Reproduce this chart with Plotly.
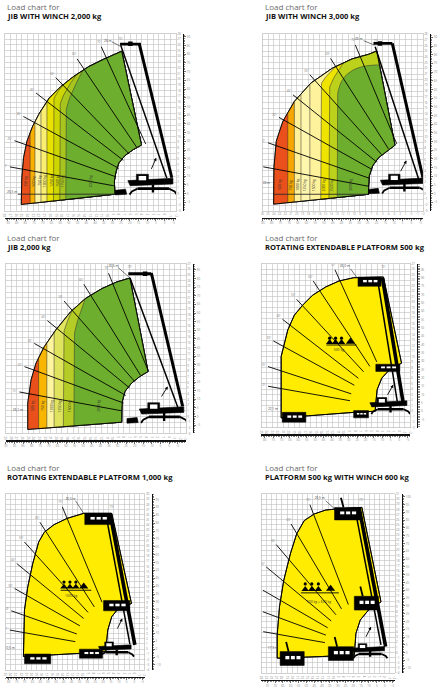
import math
import plotly.graph_objects as go

FIG_W, FIG_H = 446, 691
M_TO_FT = 3.28084

# ===================== DATA (metres) =====================

# ---- Panel 1: JIB WITH WINCH 2,000 kg
p1_title = "JIB WITH WINCH 2,000 kg"
p1_x_range = [28, -2]
p1_y_range = [-3, 28]
p1_env_x = [25.1, 25.0, 24.7, 24.1, 23.1, 21.9, 20.2, 18.2, 15.9, 13.3, 10.7, 8.7, 7.5, 4.05, 5.5, 6.9, 8.0, 8.5, 8.8, 8.7]
p1_env_y = [-1.9, 2.8, 6.3, 9.2, 11.8, 14.1, 16.7, 18.7, 20.5, 22.2, 23.5, 24.4, 24.9, 8.5, 7.7, 6.7, 5.4, 3.9, 2.2, -0.1]
p1_zone_x = [23.55, 22.7, 21.65, 20.6, 19.45, 18.35, 17.3]
p1_zone_turn = [None, None, None, None, 16.1, 15.0, 13.8]
p1_zone_ctrl = [None, None, None, None, 17.4, 16.8, 16.2]
p1_zone_end_x = [None, None, None, None, 16.5, 15.3, 14.15]
p1_zone_end_y = [None, None, None, None, 20.3, 21.0, 21.8]
p1_zone_colors = ["#E9501B", "#F7B000", "#FFF4A3", "#FAEE72", "#E9E100", "#CDD600", "#A8C51F", "#6DAE2E"]
p1_loads = ["250 kg", "500 kg", "750 kg", "1000 kg", "1250 kg", "1500 kg", "1750 kg", "2000 kg"]
p1_load_x = [24.36, 22.98, 22.06, 21.08, 19.92, 18.88, 17.9, 13.0]
p1_load_y = [2.2, 2.2, 2.2, 2.2, 2.2, 2.2, 2.2, 2.2]
p1_center = [-0.85, -0.4]
p1_ray_ang = [10.3, 19.6, 28.5, 37.6, 46.1, 56.0, 65.4]
p1_ray_r0 = [9.9, 10.0, 10.1, 10.2, 10.2, 10.3, 10.0]
p1_ray_r1 = [28.4, 28.8, 29.1, 29.5, 28.7, 28.9, 28.7]
p1_ray_labels = ["10°", "20°", "30°", "40°", "50°", "60°", "70°"]
p1_top_label = ["26 m", 9.94, 26.67]
p1_top_leader_x = [9.25, 7.8]
p1_top_leader_y = [26.55, 25.8]
p1_side_label = ["26,5 m", 26.7, 0.3]
p1_ground = [25.7, 8.7, -0.1]
p1_angle_label = ["73°", 7.69, 26.96]
p1_boom_thick_x = [4.46, -1.26]
p1_boom_thick_y = [26.26, 2.78]
p1_boom_thin_x = [7.69, -0.39]
p1_boom_thin_y = [25.97, 2.67]
p1_jib_x = [7.8, 4.17]
p1_jib_y = [26.14, 26.14]
p1_jib_box = [5.99, 26.23]
p1_machine = [-1.26, 2.78, 1.0]
p1_arrow = [2.44, 4.06, 1.46, 6.26]

# ---- Panel 2: JIB WITH WINCH 3,000 kg
p2_title = "JIB WITH WINCH 3,000 kg"
p2_x_range = [26, -2]
p2_y_range = [-3, 28]
p2_env_x = [24.04, 24.04, 23.99, 23.58, 22.43, 20.42, 17.55, 13.81, 10.36, 7.48, 6.05, 2.88, 4.32, 5.76, 6.79, 7.37, 7.48, 7.48]
p2_env_y = [-1.84, 1.07, 4.56, 9.21, 12.7, 16.19, 19.39, 22.01, 23.64, 24.45, 25.03, 8.51, 7.46, 6.3, 4.85, 3.1, 1.07, -0.1]
p2_zone_x = [21.57, 20.42, 19.27, 17.72, 15.82, 14.38, 12.95]
p2_zone_turn = [None, None, None, None, 18.81, 17.94, 16.19]
p2_zone_ctrl = [None, None, None, None, 19.8, 19.4, 22.59]
p2_zone_end_x = [None, None, None, None, 13.23, 11.8, 5.87]
p2_zone_end_y = [None, None, None, None, 22.3, 23.0, 22.59]
p2_zone_colors = ["#E9501B", "#F5A600", "#FFF09A", "#FFF6AE", "#FFF29C", "#EFE300", "#BCD11B", "#6DAE2E"]
p2_loads = ["500 kg", "750 kg", "1000 kg", "1250 kg", "1500 kg", "2000 kg", "2500 kg", "3000 kg"]
p2_load_x = [23.01, 21.11, 20.02, 18.7, 17.14, 15.36, 13.98, 10.76]
p2_load_y = [1.5, 1.5, 1.5, 1.5, 1.5, 1.5, 1.5, 1.5]
p2_center = [-1.2, -0.3]
p2_ray_ang = [10.5, 19.4, 29.4, 38.9, 48.2, 57.5, 67.4]
p2_ray_r0 = [8.8, 9.0, 9.2, 9.4, 9.6, 9.7, 9.8]
p2_ray_r1 = [27.5, 27.8, 27.9, 28.1, 28.4, 28.5, 28.6]
p2_ray_labels = ["10°", "20°", "30°", "40°", "50°", "60°", "70°"]
p2_top_label = ["26 m", 9.21, 27.07]
p2_top_leader_x = [8.35, 6.45]
p2_top_leader_y = [26.84, 26.08]
p2_side_label = ["24 m", 25.3, 1.9]
p2_ground = [24.04, 7.48, -0.1]
p2_angle_label = ["73°", 6.22, 26.78]
p2_boom_thick_x = [3.34, -2.0]
p2_boom_thick_y = [26.37, 2.81]
p2_boom_thin_x = [6.33, -1.26]
p2_boom_thin_y = [25.79, 2.52]
p2_jib_x = [6.62, 3.34]
p2_jib_y = [26.37, 26.37]
p2_jib_box = [5.5, 26.37]
p2_machine = [-1.9, 2.84, 0.95]
p2_arrow = [2.02, 3.68, 0.87, 5.84]

# ---- Panel 3: JIB 2,000 kg
p3_title = "JIB 2,000 kg"
p3_x_range = [29, -3]
p3_y_range = [-3, 27]
p3_env_x = [25.08, 25.08, 24.49, 23.62, 22.15, 20.11, 17.47, 14.84, 11.91, 9.28, 6.94, 3.72, 5.18, 6.65, 7.82, 8.29, 8.4, 8.4]
p3_env_y = [-2.29, 2.4, 6.5, 9.43, 12.35, 15.28, 18.51, 20.85, 22.61, 23.78, 24.48, 7.96, 7.08, 5.91, 4.45, 2.69, 0.93, -1.0]
p3_zone_x = [23.15, 21.69, 20.4, 18.76, 16.89]
p3_zone_turn = [None, None, None, 14.1, 13.53]
p3_zone_ctrl = [None, None, None, 15.5, 15.7]
p3_zone_end_x = [None, None, None, 17.18, 14.84]
p3_zone_end_y = [None, None, None, 18.8, 20.85]
p3_zone_colors = ["#E9501B", "#F8B600", "#FFF59F", "#DFE35E", "#B5CC26", "#6DAE2E"]
p3_loads = ["500 kg", "750 kg", "1000 kg", "1250 kg", "1500 kg", "2000 kg"]
p3_load_x = [24.2, 22.45, 20.98, 19.52, 17.77, 12.5]
p3_load_y = [1.8, 1.8, 1.8, 1.8, 1.8, 1.8]
p3_center = [0.2, -0.5]
p3_ray_ang = [10.4, 20.1, 29.5, 39.2, 48.6, 58.0, 67.8]
p3_ray_r0 = [8.3, 8.4, 8.6, 8.8, 9.0, 9.2, 9.3]
p3_ray_r1 = [26.8, 27.1, 27.25, 27.6, 27.9, 28.15, 27.9]
p3_ray_labels = ["10°", "20°", "30°", "40°", "50°", "60°", "70°"]
p3_top_label = ["26,6 m", 9.87, 26.53]
p3_top_leader_x = [8.99, 7.12]
p3_top_leader_y = [26.3, 24.66]
p3_side_label = ["26,1 m", 26.83, 1.05]
p3_ground = None
p3_angle_label = ["73°", 6.94, 26.41]
p3_boom_thick_x = [3.14, -2.42]
p3_boom_thick_y = [25.36, 1.81]
p3_boom_thin_x = [6.94, -1.54]
p3_boom_thin_y = [24.54, 1.69]
p3_jib_x = [7.23, 3.14]
p3_jib_y = [25.24, 25.24]
p3_jib_box = [4.24, 25.24]
p3_machine = [-2.43, 1.83, 1.0]
p3_arrow = [1.5, 3.27, 0.22, 5.32]

# ---- Panel 4: ROTATING EXTENDABLE PLATFORM 500 kg
p4_title = "ROTATING EXTENDABLE PLATFORM 500 kg"
p4_x_range = [25, -2]
p4_y_range = [-3, 27]
p4_env_x = [21.41, 21.41, 20.21, 19.01, 17.51, 15.72, 13.32, 10.93, 8.23, 2.84, -0.45, 1.65, 3.14, 3.98, 4.22, 4.34, 7.93]
p4_env_y = [-1.23, 10.0, 14.86, 17.59, 19.41, 21.23, 22.75, 23.84, 24.45, 24.57, 8.79, 7.69, 6.05, 3.93, 1.5, -0.02, -0.2]
p4_center = [0.15, 0.35]
p4_ray_ang = [10.1, 18.3, 28.9, 38.1, 47.5, 56.7, 65.8]
p4_ray_r0 = [8.9, 9.0, 9.1, 9.2, 9.3, 9.4, 9.5]
p4_ray_r1 = [24.0, 24.9, 25.9, 26.7, 27.3, 28.1, 28.0]
p4_ray_labels = ["10°", "20°", "30°", "40°", "50°", "60°", "70°"]
p4_top_label = ["26,0 m", 9.85, 26.51]
p4_top_leader_x = [8.83, 7.63]
p4_top_leader_y = [26.09, 24.45]
p4_side_label = ["22,1 m", 22.9, 0.29]
p4_angle_label = ["73°", 2.84, 26.39]
p4_boom_thick_x = [3.02, -0.75]
p4_boom_thick_y = [24.45, 1.5]
p4_boom_thin_x = [3.86, 0.33]
p4_boom_thin_y = [23.84, 1.8]
p4_machine = [-1.25, 1.97, 0.85]
p4_arrow = [2.25, 2.71, 1.05, 4.84]
p4_plat_cx = [5.36, 2.04, 19.07, 6.9]
p4_plat_y = [22.87, 7.27, -2.02, -1.23]
p4_plat_w = [4.2, 4.37, 4.3, 2.7]
p4_plat_h = [1.7, 1.33, 1.8, 1.33]
p4_people_x = [12.6, 11.53, 10.45]
p4_heap_x = [8.83]
p4_icon_floor = [12.12, 1.52]
p4_floor_x = [13.2, 7.75]
p4_cap = ["500 kg", 10.93, 11.09]

# ---- Panel 5: ROTATING EXTENDABLE PLATFORM 1,000 kg
p5_title = "ROTATING EXTENDABLE PLATFORM 1,000 kg"
p5_x_range = [25, -2]
p5_y_range = [-4, 30]
p5_env_x = [21.55, 21.35, 20.71, 19.75, 18.6, 17.51, 15.6, 13.04, 9.84, 4.4, 0.56, 3.12, 4.4, 5.17, 5.42, 5.55, 10.16]
p5_env_y = [-1.43, 7.55, 12.04, 16.53, 20.7, 22.62, 24.1, 25.32, 26.28, 26.28, 8.83, 7.87, 6.27, 3.7, 1.14, -0.47, -0.79]
p5_center = [2.42, -0.15]
p5_ray_ang = [10.0, 19.4, 29.7, 39.3, 47.8, 57.2, 67.3]
p5_ray_r0 = [9.2, 9.3, 9.4, 9.6, 9.8, 9.9, 10.0]
p5_ray_r1 = [22.1, 22.8, 24.0, 26.4, 28.2, 29.4, 30.0]
p5_ray_labels = ["10°", "20°", "30°", "40°", "50°", "60°", "70°"]
p5_top_label = ["26,5 m", 12.4, 29.04]
p5_top_leader_x = [11.44, 9.84]
p5_top_leader_y = [28.72, 26.28]
p5_side_label = ["20,5 m", 24.23, 0.17]
p5_angle_label = ["73°", 4.4, 27.43]
p5_boom_thick_x = [4.72, -0.08]
p5_boom_thick_y = [26.28, 0.81]
p5_boom_thin_x = [5.49, 0.88]
p5_boom_thin_y = [25.83, 1.0]
p5_machine = [0.8, 0.91, 0.8]
p5_arrow = [3.44, 3.7, 2.35, 5.95]
p5_plat_cx = [7.09, 3.44, 18.79, 8.43]
p5_plat_y = [24.1, 7.42, -2.84, -1.75]
p5_plat_w = [5.1, 5.1, 5.1, 4.5]
p5_plat_h = [2.2, 2.0, 1.9, 1.75]
p5_people_x = [13.68, 12.52, 11.37]
p5_heap_x = [9.84]
p5_icon_floor = [11.4, 1.92]
p5_floor_x = [14.32, 8.37]
p5_cap = ["1000 kg", 12.27, 10.24]

# ---- Panel 6: PLATFORM 500 kg WITH WINCH 600 kg
p6_title = "PLATFORM 500 kg WITH WINCH 600 kg"
p6_x_range = [24, -2]
p6_y_range = [-4, 31]
p6_env_x = [20.92, 20.92, 20.47, 19.64, 18.35, 17.13, 15.66, 13.73, 11.48, 9.56, 4.42, 0.7, 3.14, 4.74, 5.58, 5.84, 5.9, 12.13]
p6_env_y = [-1.08, 3.46, 8.96, 14.15, 19.33, 23.22, 25.82, 27.11, 27.89, 28.08, 28.41, 9.94, 8.32, 6.37, 3.78, 1.19, -0.43, -0.76]
p6_center = [3.65, 0.54]
p6_ray_ang = [10.1, 20.4, 30.2, 39.9, 49.7, 59.4, 69.0]
p6_ray_r0 = [8.1, 8.3, 8.6, 8.8, 9.0, 9.3, 9.5]
p6_ray_r1 = [20.3, 21.4, 23.2, 25.3, 27.0, 28.6, 30.4]
p6_ray_labels = ["10°", "20°", "30°", "40°", "50°", "60°", "70°"]
p6_top_label = ["26,5 m", 12.64, 30.16]
p6_top_leader_x = [11.48, 9.69]
p6_top_leader_y = [29.7, 28.08]
p6_side_label = ["17,3 m", 21.75, 0.86]
p6_angle_label = ["73°", 4.55, 29.7]
p6_boom_thick_x = [4.94, -0.2]
p6_boom_thick_y = [28.28, 1.19]
p6_boom_thin_x = [5.71, 0.7]
p6_boom_thin_y = [27.89, 1.51]
p6_machine = [0.18, 1.26, 0.8]
p6_arrow = [3.78, 2.81, 2.63, 5.08]
p6_plat_cx = [7.25, 3.55, 18.0, 8.5]
p6_plat_y = [25.95, 8.32, -2.5, -1.53]
p6_plat_w = [5.0, 4.7, 4.7, 4.9]
p6_plat_h = [2.45, 2.7, 2.7, 2.7]
p6_people_x = [15.46, 14.18, 12.9]
p6_heap_x = [10.52]
p6_icon_floor = [11.69, 2.14]
p6_floor_x = [16.3, 8.92]
p6_cap = ["500 kg + 600 kg", 12.77, 9.94]

# machine glyph (relative to an anchor, metres; u = outreach direction, v = up)
mach_body_u = [7.7, -0.2, -0.2, 7.3]
mach_body_v = [-0.5, -0.1, -1.1, -1.4]
mach_cab_u = [6.2, 4.1, 4.1, 6.2]
mach_cab_v = [0.6, 0.6, -0.9, -0.9]
mach_win_u = [5.8, 4.5, 4.5, 5.8]
mach_win_v = [0.3, 0.3, -0.45, -0.45]
mach_slab_u = [6.0, 0.5]
mach_slab_v = [-1.9, -1.9]
mach_legl_u = [6.0, 7.0, 7.4]
mach_legl_v = [-1.9, -2.4, -2.95]
mach_legr_u = [0.5, -0.5, -0.9]
mach_legr_v = [-1.9, -2.4, -2.95]
mach_post_u = [3.3, 3.3]
mach_post_v = [-1.2, -2.6]
mach_front_u = [9.9, 8.1, 7.9, 9.9]
mach_front_v = [-2.2, -2.0, -2.9, -3.0]

# ===================== LAYOUT (pixels) =====================
P_BOX = [  # left, right, top, bottom of each grid
    [1.7, 175.0, 31.7, 210.0],
    [262.3, 424.7, 32.3, 210.0],
    [2.7, 185.0, 263.3, 434.0],
    [261.3, 411.7, 263.3, 428.0],
    [2.7, 143.3, 495.0, 671.7],
    [261.3, 396.3, 495.0, 675.0],
]
P_TITLE = [[2.5, 4.8, 13.8], [262.5, 4.8, 13.8], [2.5, 236.5, 246.4],
           [262.5, 236.5, 246.4], [2.5, 468.0, 477.6], [262.5, 468.0, 477.6]]

G = globals()
panels = []
for i in range(1, 7):
    p = {k[3:]: v for k, v in G.items() if k.startswith(f"p{i}_")}
    panels.append(p)

# ===================== helpers =====================
def clip(subject, clipper):
    n = len(clipper)
    area = sum(clipper[j][0] * clipper[(j + 1) % n][1] - clipper[(j + 1) % n][0] * clipper[j][1] for j in range(n))
    s = 1 if area > 0 else -1
    out = list(subject)
    for j in range(n):
        a, b = clipper[j], clipper[(j + 1) % n]

        def inside(p):
            return s * ((b[0] - a[0]) * (p[1] - a[1]) - (b[1] - a[1]) * (p[0] - a[0])) >= 0

        def inter(p, q):
            x1, y1 = p
            x2, y2 = q
            x3, y3 = a
            x4, y4 = b
            den = (x1 - x2) * (y3 - y4) - (y1 - y2) * (x3 - x4)
            if abs(den) < 1e-12:
                return q
            t = ((x1 - x3) * (y3 - y4) - (y1 - y3) * (x3 - x4)) / den
            return (x1 + t * (x2 - x1), y1 + t * (y2 - y1))

        inp, out = out, []
        if not inp:
            break
        for k in range(len(inp)):
            cur, prev = inp[k], inp[k - 1]
            if inside(cur):
                if not inside(prev):
                    out.append(inter(prev, cur))
                out.append(cur)
            elif inside(prev):
                out.append(inter(prev, cur))
    return out


def bezier(p0, p1, p2, n=18):
    pts = []
    for k in range(1, n + 1):
        t = k / n
        a, b, c = (1 - t) ** 2, 2 * (1 - t) * t, t * t
        pts.append((a * p0[0] + b * p1[0] + c * p2[0], a * p0[1] + b * p1[1] + c * p2[1]))
    return pts


def clip_region(bx, turn, ctrl, ex, ey):
    BIG = 300
    if turn is None:
        return [(bx, -BIG), (bx, BIG), (-BIG, BIG), (-BIG, -BIG)]
    p0, p1, p2 = (bx, turn), (bx, ctrl), (ex, ey)
    pts = [(bx, -BIG), p0] + bezier(p0, p1, p2)
    dx, dy = ex - bx, ey - ctrl
    L = math.hypot(dx, dy)
    f = (ex + 60 * dx / L, ey + 60 * dy / L)
    pts += [f, (-BIG, f[1]), (-BIG, -BIG)]
    return pts


fig = go.Figure()
annotations = []
layout_axes = {}


def add_poly(xs, ys, fill, xa, ya, lc="#2b2b2b", lw=0.5):
    fig.add_trace(go.Scatter(x=list(xs) + [xs[0]], y=list(ys) + [ys[0]], mode="lines", fill="toself",
                             fillcolor=fill, line=dict(color=lc, width=lw), hoverinfo="skip",
                             showlegend=False, xaxis=xa, yaxis=ya))


def add_line(xs, ys, xa, ya, color="black", width=1.0, dash=None):
    fig.add_trace(go.Scatter(x=xs, y=ys, mode="lines", line=dict(color=color, width=width, dash=dash),
                             hoverinfo="skip", showlegend=False, xaxis=xa, yaxis=ya))


def add_text(xs, ys, texts, xa, ya, size=3.2, color="#666666"):
    fig.add_trace(go.Scatter(x=xs, y=ys, mode="text", text=texts,
                             textfont=dict(size=size, color=color, family="Open Sans"),
                             hoverinfo="skip", showlegend=False, xaxis=xa, yaxis=ya))


for i, P in enumerate(panels):
    k1, k2 = 2 * i + 1, 2 * i + 2
    xa = "x" if k1 == 1 else f"x{k1}"
    ya = "y" if k1 == 1 else f"y{k1}"
    xa2, ya2 = f"x{k2}", f"y{k2}"
    L, R, T, B = P_BOX[i]
    xdom = [L / FIG_W, R / FIG_W]
    ydom = [1 - B / FIG_H, 1 - T / FIG_H]
    xr, yr = P["x_range"], P["y_range"]
    tickfont = dict(size=3, color="#8c8c8c", family="Open Sans")
    layout_axes["xaxis" if k1 == 1 else f"xaxis{k1}"] = dict(
        domain=xdom, range=xr, autorange=False, dtick=1, tick0=0, showgrid=True, gridcolor="#C0C0C0",
        gridwidth=0.6, zeroline=False, showline=True, linecolor="#B0B0B0", linewidth=0.6, mirror=True,
        ticks="", tickfont=tickfont, anchor=ya, fixedrange=True, ticklabelstandoff=0)
    layout_axes["yaxis" if k1 == 1 else f"yaxis{k1}"] = dict(
        domain=ydom, range=yr, autorange=False, dtick=1, tick0=0, showgrid=True, gridcolor="#C0C0C0",
        gridwidth=0.6, zeroline=False, showline=True, linecolor="#B0B0B0", linewidth=0.6, mirror=True,
        ticks="", tickfont=tickfont, side="right", anchor=xa, fixedrange=True, ticklabelstandoff=0)
    ruler = dict(showgrid=False, zeroline=False, showline=True, linecolor="#111111", linewidth=1.3,
                 ticks="outside", ticklen=2, tickwidth=0.6, tickcolor="#111111", dtick=5, tick0=0,
                 tickfont=tickfont, fixedrange=True, anchor="free",
                 minor=dict(ticks="outside", dtick=1, ticklen=1.2, tickwidth=0.5, tickcolor="#111111"))
    layout_axes[f"xaxis{k2}"] = dict(ruler, overlaying=xa, side="bottom", domain=xdom,
                                    range=[xr[0] * M_TO_FT, xr[1] * M_TO_FT], autorange=False,
                                    position=1 - (B + 6.8) / FIG_H)
    layout_axes[f"yaxis{k2}"] = dict(ruler, overlaying=ya, side="right", domain=ydom,
                                    range=[yr[0] * M_TO_FT, yr[1] * M_TO_FT], autorange=False,
                                    position=(R + 7.0) / FIG_W)
    fig.add_trace(go.Scatter(x=[(xr[0] + xr[1]) / 2 * M_TO_FT], y=[(yr[0] + yr[1]) / 2 * M_TO_FT],
                             mode="markers", marker=dict(opacity=0), hoverinfo="skip", showlegend=False,
                             xaxis=xa2, yaxis=ya2))

    env = list(zip(P["env_x"], P["env_y"]))
    ex_, ey_ = P["env_x"], P["env_y"]
    # ---- load zones
    if "zone_x" in P:
        add_poly(ex_, ey_, P["zone_colors"][0], xa, ya)
        for j in range(len(P["zone_x"])):
            reg = clip_region(P["zone_x"][j], P["zone_turn"][j], P["zone_ctrl"][j],
                              P["zone_end_x"][j], P["zone_end_y"][j])
            poly = clip(env, reg)
            if len(poly) > 2:
                add_poly([q[0] for q in poly], [q[1] for q in poly], P["zone_colors"][j + 1], xa, ya)
    else:
        add_poly(ex_, ey_, "#FFEC00", xa, ya, lc="black", lw=0.9)
    add_line(list(ex_) + [ex_[0]], list(ey_) + [ey_[0]], xa, ya, "black", 0.9)

    if P.get("ground"):
        g0, g1, gy = P["ground"]
        add_line([g0, g1], [gy, gy], xa, ya, "#2a2a2a", 0.9)

    # ---- boom-angle rays
    cx, cy = P["center"]
    rx, ry, lx, ly = [], [], [], []
    for a, r0, r1 in zip(P["ray_ang"], P["ray_r0"], P["ray_r1"]):
        t = math.radians(a)
        rx += [cx + r0 * math.cos(t), cx + r1 * math.cos(t), None]
        ry += [cy + r0 * math.sin(t), cy + r1 * math.sin(t), None]
        lx.append(cx + (r1 + 0.9) * math.cos(t))
        ly.append(cy + (r1 + 0.9) * math.sin(t))
    add_line(rx, ry, xa, ya, "black", 0.9)
    add_text(lx, ly, P["ray_labels"], xa, ya, 2.8, "#777777")

    # ---- labels
    tl = P["top_label"]
    add_text([tl[1]], [tl[2]], [tl[0]], xa, ya, 3.2, "#444444")
    add_line(P["top_leader_x"], P["top_leader_y"], xa, ya, "#222222", 0.6)
    sl = P["side_label"]
    add_text([sl[1]], [sl[2]], [sl[0]], xa, ya, 3.2, "#444444")
    al = P["angle_label"]
    add_text([al[1]], [al[2]], [al[0]], xa, ya, 2.8, "#777777")
    if "loads" in P:
        for txt, lxx, lyy in zip(P["loads"], P["load_x"], P["load_y"]):
            annotations.append(dict(x=lxx, y=lyy, xref=xa, yref=ya, text=txt, showarrow=False,
                                    textangle=-90, font=dict(size=3.4, color="#333333", family="Open Sans")))

    # ---- boom
    thick = 3.0 if "zone_x" in P else 3.6
    add_line(P["boom_thin_x"], P["boom_thin_y"], xa, ya, "black", 1.5)
    add_line(P["boom_thick_x"], P["boom_thick_y"], xa, ya, "black", thick)
    if "jib_x" in P:
        add_line(P["jib_x"], P["jib_y"], xa, ya, "black", 2.8)
        fig.add_trace(go.Scatter(x=[P["jib_box"][0]], y=[P["jib_box"][1]], mode="markers",
                                 marker=dict(symbol="square", size=4.5, color="black"), hoverinfo="skip",
                                 showlegend=False, xaxis=xa, yaxis=ya))

    # ---- machine
    axm, aym, sm = P["machine"]
    tx = lambda us: [axm + sm * u for u in us]
    ty = lambda vs: [aym + sm * v for v in vs]
    add_poly(tx(mach_body_u), ty(mach_body_v), "black", xa, ya, "black", 0.6)
    add_line(tx(mach_slab_u), ty(mach_slab_v), xa, ya, "black", 2.6)
    add_line(tx(mach_legl_u), ty(mach_legl_v), xa, ya, "black", 1.8)
    add_line(tx(mach_legr_u), ty(mach_legr_v), xa, ya, "black", 1.8)
    add_line(tx(mach_post_u), ty(mach_post_v), xa, ya, "black", 2.4)
    add_poly(tx(mach_cab_u), ty(mach_cab_v), "black", xa, ya, "black", 0.6)
    add_poly(tx(mach_win_u), ty(mach_win_v), "white", xa, ya, "white", 0.1)
    if "jib_x" in P:
        add_poly(tx(mach_front_u), ty(mach_front_v), "black", xa, ya, "black", 0.6)

    # ---- rotation arrow
    ar = P["arrow"]
    annotations.append(dict(x=ar[2], y=ar[3], ax=ar[0], ay=ar[1], xref=xa, yref=ya, axref=xa, ayref=ya,
                            text="", showarrow=True, arrowhead=2, arrowsize=0.7, arrowwidth=0.9,
                            arrowcolor="black"))

    # ---- platforms and people
    if "plat_cx" in P:
        for pcx, py0, pw, ph in zip(P["plat_cx"], P["plat_y"], P["plat_w"], P["plat_h"]):
            add_poly([pcx - pw / 2, pcx + pw / 2, pcx + pw / 2, pcx - pw / 2],
                     [py0, py0, py0 + ph, py0 + ph], "black", xa, ya, "black", 0.5)
            for c0, c1 in ((0.28, 0.12), (0.05, -0.11), (-0.18, -0.34)):
                add_poly([pcx + c0 * pw, pcx + c1 * pw, pcx + c1 * pw, pcx + c0 * pw],
                         [py0 + 0.45 * ph, py0 + 0.45 * ph, py0 + 0.68 * ph, py0 + 0.68 * ph],
                         "white", xa, ya, "white", 0.1)
            if i == 5:
                add_line([pcx + 0.15 * pw, pcx + 0.25 * pw], [py0 + ph, py0 + ph + 1.9], xa, ya, "black", 1.8)
        fl, fh = P["icon_floor"]
        add_line(P["floor_x"], [fl, fl], xa, ya, "black", 0.9)
        fig.add_trace(go.Scatter(x=P["people_x"], y=[fl + 0.33 * fh] * len(P["people_x"]), mode="markers",
                                 marker=dict(symbol="triangle-up", size=6.5, color="black"), hoverinfo="skip",
                                 showlegend=False, xaxis=xa, yaxis=ya))
        fig.add_trace(go.Scatter(x=P["people_x"], y=[fl + 0.82 * fh] * len(P["people_x"]), mode="markers",
                                 marker=dict(symbol="circle", size=3.2, color="black"), hoverinfo="skip",
                                 showlegend=False, xaxis=xa, yaxis=ya))
        fig.add_trace(go.Scatter(x=P["heap_x"], y=[fl + 0.38 * fh] * len(P["heap_x"]), mode="markers",
                                 marker=dict(symbol="triangle-up", size=8, color="black"), hoverinfo="skip",
                                 showlegend=False, xaxis=xa, yaxis=ya))
        cp = P["cap"]
        add_text([cp[1]], [cp[2]], [cp[0]], xa, ya, 3.4, "#333333")

    # ---- titles
    tx0, ty1, ty2 = P_TITLE[i]
    annotations.append(dict(x=tx0 / FIG_W, y=1 - ty1 / FIG_H, xref="paper", yref="paper", xanchor="left",
                            yanchor="middle", text="Load chart for", showarrow=False,
                            font=dict(size=8, color="#6b6b6b", family="Open Sans")))
    annotations.append(dict(x=tx0 / FIG_W, y=1 - ty2 / FIG_H, xref="paper", yref="paper", xanchor="left",
                            yanchor="middle", text="<b>" + P["title"] + "</b>", showarrow=False,
                            font=dict(size=7.6, color="#111111", family="Open Sans")))

fig.update_layout(width=FIG_W, height=FIG_H, autosize=False, margin=dict(l=0, r=0, t=0, b=0, pad=0),
                  paper_bgcolor="white", plot_bgcolor="white", showlegend=False,
                  annotations=annotations, **layout_axes)

fig.write_html("out.html", config={"displayModeBar": False, "staticPlot": True},
               post_script="document.body.style.margin='0px';")
